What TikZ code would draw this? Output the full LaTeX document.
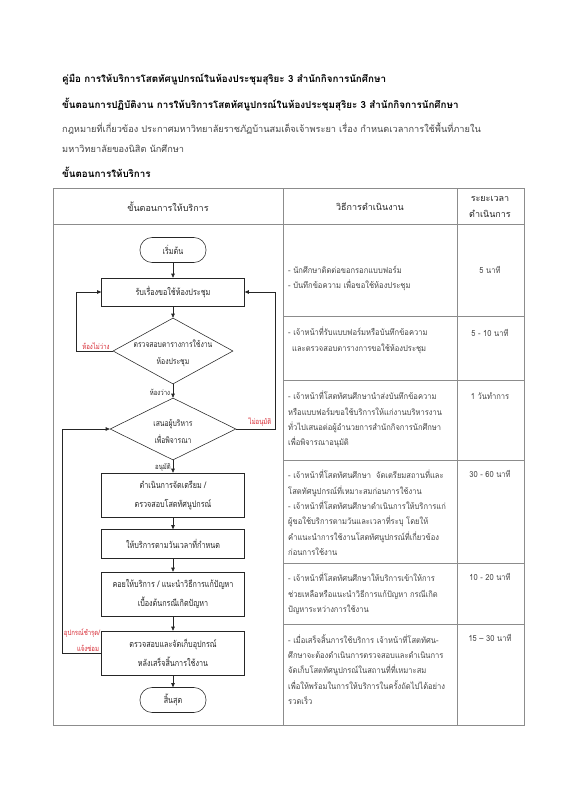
\documentclass[tikz,border=0pt]{standalone}
\usepackage{fontspec}
\setmainfont[Script=Thai]{Loma}
\newfontfamily\thcond[Script=Thai,FakeStretch=0.8]{Loma}
\newfontfamily\thnarrow[Script=Thai,FakeStretch=0.9]{Loma}
\usetikzlibrary{shapes.geometric,arrows.meta}
\definecolor{tgray}{RGB}{140,140,140}
\definecolor{txt}{RGB}{70,70,70}
\definecolor{lred}{RGB}{215,40,50}
\tikzset{
  tline/.style={draw=tgray, line width=0.6pt},
  fline/.style={draw=black!85, line width=0.55pt},
  arr/.style={fline, -{Triangle[length=4pt,width=3.5pt]}},
  ftext/.style={font=\thcond\fontsize{9}{19}\selectfont, text=black!85, align=center},
  dtext/.style={font=\thcond\fontsize{8.5}{17}\selectfont, text=black!85, align=center, inner sep=0pt},
  fbox/.style={fline, ftext, rectangle, minimum width=143pt, inner sep=0pt},
  term/.style={fline, ftext, rectangle, rounded corners=12pt, minimum width=66pt, minimum height=25pt, inner sep=0pt},
  dia/.style={fline, diamond, inner sep=0pt},
  redlab/.style={font=\thcond\fontsize{7.5}{13}\selectfont, text=lred, inner sep=0pt},
  blklab/.style={font=\thcond\fontsize{7.5}{13}\selectfont, text=black!85, inner sep=0pt},
  celltext/.style={font=\thnarrow\fontsize{8.4}{15.3}\selectfont, text=txt, align=left, anchor=north west, inner sep=0pt},
  timetext/.style={font=\thnarrow\fontsize{8.4}{15.3}\selectfont, text=txt, align=center, anchor=north, inner sep=0pt},
  headtext/.style={font=\fontsize{9}{16}\selectfont, text=black!85, align=center, inner sep=0pt},
  titletext/.style={font=\bfseries\fontsize{9.8}{14}\selectfont, anchor=base west, inner sep=0pt},
  lawtext/.style={font=\fontsize{9.2}{20}\selectfont, text=txt, anchor=north west, align=left, inner sep=0pt}
}
\begin{document}
\begin{tikzpicture}[x=1pt,y=-1pt]
\useasboundingbox (0,0) rectangle (565,800);
\fill[white] (0,0) rectangle (565,800);

% heading texts
\node[titletext] (t1) at (62,82) {คู่มือ การให้บริการโสตทัศนูปกรณ์ในห้องประชุมสุริยะ 3 สำนักกิจการนักศึกษา};
\node[titletext] (t2) at (62,108) {ขั้นตอนการปฏิบัติงาน การให้บริการโสตทัศนูปกรณ์ในห้องประชุมสุริยะ 3 สำนักกิจการนักศึกษา};
\node[lawtext] (law) at (62,123) {กฎหมายที่เกี่ยวข้อง ประกาศมหาวิทยาลัยราชภัฏบ้านสมเด็จเจ้าพระยา เรื่อง กำหนดเวลาการใช้พื้นที่ภายใน\\มหาวิทยาลัยของนิสิต นักศึกษา};
\node[titletext] (t3) at (62,177) {ขั้นตอนการให้บริการ};

% table
\draw[tline] (53,188) rectangle (524,725);
\draw[tline] (283,188) -- (283,725);
\draw[tline] (457,188) -- (457,725);
\draw[tline] (53,224) -- (524,224);
\foreach \yy in {316,380,460,563,624} \draw[tline] (283,\yy) -- (524,\yy);

\node[headtext] (h1) at (168,207) {ขั้นตอนการให้บริการ};
\node[headtext] (h2) at (370,207) {วิธีการดำเนินงาน};
\node[headtext] (h3) at (490,207) {ระยะเวลา\\ดำเนินการ};

% column 2 texts
\node[celltext] (c1) at (288,266) {- นักศึกษาติดต่อขอกรอกแบบฟอร์ม\\- บันทึกข้อความ เพื่อขอใช้ห้องประชุม};
\node[celltext] (c2) at (288,327) {- เจ้าหน้าที่รับแบบฟอร์มหรือบันทึกข้อความ\\\hspace*{4pt}และตรวจสอบตารางการขอใช้ห้องประชุม};
\node[celltext] (c3) at (288,391) {- เจ้าหน้าที่โสตทัศนศึกษานำส่งบันทึกข้อความ\\หรือแบบฟอร์มขอใช้บริการให้แก่งานบริหารงาน\\ทั่วไปเสนอต่อผู้อำนวยการสำนักกิจการนักศึกษา\\เพื่อพิจารณาอนุมัติ};
\node[celltext] (c4) at (288,470) {- เจ้าหน้าที่โสตทัศนศึกษา\ \ จัดเตรียมสถานที่และ\\โสตทัศนูปกรณ์ที่เหมาะสมก่อนการใช้งาน\\- เจ้าหน้าที่โสตทัศนศึกษาดำเนินการให้บริการแก่\\ผู้ขอใช้บริการตามวันและเวลาที่ระบุ โดยให้\\คำแนะนำการใช้งานโสตทัศนูปกรณ์ที่เกี่ยวข้อง\\ก่อนการใช้งาน};
\node[celltext] (c5) at (288,573) {- เจ้าหน้าที่โสตทัศนศึกษาให้บริการเข้าให้การ\\ช่วยเหลือหรือแนะนำวิธีการแก้ปัญหา กรณีเกิด\\ปัญหาระหว่างการใช้งาน};
\node[celltext] (c6) at (288,634) {- เมื่อเสร็จสิ้นการใช้บริการ เจ้าหน้าที่โสตทัศน-\\ศึกษาจะต้องดำเนินการตรวจสอบและดำเนินการ\\จัดเก็บโสตทัศนูปกรณ์ในสถานที่ที่เหมาะสม\\เพื่อให้พร้อมในการให้บริการในครั้งถัดไปได้อย่าง\\รวดเร็ว};

% column 3 texts
\node[timetext] (d1) at (490,266) {5 นาที};
\node[timetext] (d2) at (490,329) {5 - 10 นาที};
\node[timetext] (d3) at (490,392) {1 วันทำการ};
\node[timetext] (d4) at (490,470) {30 - 60 นาที};
\node[timetext] (d5) at (490,573) {10 - 20 นาที};
\node[timetext] (d6) at (490,634) {15 – 30 นาที};

% flowchart
\node[term] (start) at (173,250) {เริ่มต้น};
\node[fbox, minimum height=28pt] (recv) at (173,292) {รับเรื่องขอใช้ห้องประชุม};
\node[dia, minimum width=120pt, minimum height=66pt] (chk) at (173,351) {};
\node[dtext] (chkt) at (173,353) {ตรวจสอบตารางการใช้งาน\\ห้องประชุม};
\node[dia, minimum width=126pt, minimum height=62pt] (prop) at (173,429) {};
\node[dtext] (propt) at (173,431) {เสนอผู้บริหาร\\เพื่อพิจารณา};
\node[fbox, minimum height=44pt] (prep) at (173,495) {ดำเนินการจัดเตรียม /\\ตรวจสอบโสตทัศนูปกรณ์};
\node[fbox, minimum height=29pt] (serve) at (173,544) {ให้บริการตามวันเวลาที่กำหนด};
\node[fbox, minimum height=44pt] (help) at (173,594) {คอยให้บริการ / แนะนำวิธีการแก้ปัญหา\\เบื้องต้นกรณีเกิดปัญหา};
\node[fbox, minimum height=44pt] (store) at (173,653) {ตรวจสอบและจัดเก็บอุปกรณ์\\หลังเสร็จสิ้นการใช้งาน};
\node[term] (stop) at (173,700) {สิ้นสุด};

\draw[arr] (start) -- (recv);
\draw[arr] (recv) -- (chk);
\draw[arr] (chk) -- (prop);
\draw[arr] (prop) -- (prep);
\draw[arr] (prep) -- (serve);
\draw[arr] (serve) -- (help);
\draw[arr] (help) -- (store);
\draw[arr] (store) -- (stop);

\coordinate (lx1) at (76,0);
\coordinate (lx2) at (62,0);
\coordinate (rx) at (275,0);
\draw[arr] (chk.west) -- (chk.west -| lx1) |- (recv.west);
\draw[arr] (prop.east) -- (prop.east -| rx) |- (recv.east);
\draw[arr] (store.west) -- (store.west -| lx2) |- (prop.west);

\node[redlab] (l1) at (96,346) {ห้องไม่ว่าง};
\node[blklab] (l2) at (160,392) {ห้องว่าง};
\node[redlab] (l3) at (260,422) {ไม่อนุมัติ};
\node[blklab] (l4) at (163,467) {อนุมัติ};
\node[redlab] (l5) at (82,633) {อุปกรณ์ชำรุด/};
\node[redlab] (l6) at (88,648) {แจ้งซ่อม};
\end{tikzpicture}
\end{document}
